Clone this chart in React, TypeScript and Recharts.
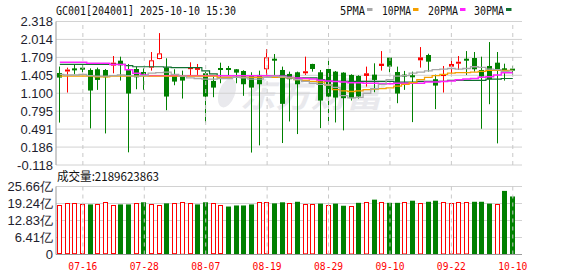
import React from 'react';
import { ComposedChart, Bar, Line, XAxis, YAxis, CartesianGrid, ReferenceLine } from 'recharts';

const dates = [
  '07-11','07-14','07-15','07-16','07-17','07-18','07-21','07-22','07-23','07-24',
  '07-25','07-28','07-29','07-30','07-31','08-01','08-04','08-05','08-06','08-07',
  '08-08','08-11','08-12','08-13','08-14','08-15','08-18','08-19','08-20','08-21',
  '08-22','08-25','08-26','08-27','08-28','08-29','09-01','09-02','09-03','09-04',
  '09-05','09-08','09-09','09-10','09-11','09-12','09-15','09-16','09-17','09-18',
  '09-19','09-22','09-23','09-24','09-25','09-26','09-29','09-30','10-09','10-10',
];

const openP = [
  1.444,1.482,1.508,1.520,1.495,1.507,1.495,1.569,1.653,1.512,
  1.512,1.461,1.535,1.681,1.535,1.405,1.405,1.512,1.510,1.439,
  1.309,1.514,1.514,1.507,1.478,1.405,1.411,1.507,1.672,1.495,
  1.428,1.456,1.452,1.597,1.456,1.512,1.467,1.450,1.411,1.394,
  1.394,1.416,1.563,1.704,1.461,1.402,1.405,1.659,1.749,1.338,
  1.406,1.552,1.615,1.672,1.698,1.495,1.563,1.619,1.509,1.512,
];
const highP = [
  1.553,1.535,1.580,1.591,1.523,1.535,1.512,1.732,1.721,1.597,
  1.552,1.523,1.800,2.121,1.693,1.507,1.484,1.625,1.597,1.467,
  1.382,1.619,1.563,1.510,1.490,1.456,1.484,1.850,1.766,1.552,
  1.467,1.467,1.721,1.600,1.495,1.664,1.478,1.456,1.422,1.405,
  1.552,1.608,1.816,1.707,1.552,1.479,1.467,1.884,1.771,1.416,
  1.563,1.709,1.732,1.816,1.800,1.721,1.969,1.800,1.602,1.563,
];
const lowP = [
  0.602,1.112,1.422,1.456,0.503,1.157,0.418,1.439,1.315,0.097,
  1.168,1.157,1.484,1.678,0.813,1.236,1.010,1.394,1.411,0.604,
  1.033,1.270,1.400,1.270,1.056,0.093,0.215,1.411,1.411,0.255,
  0.621,0.407,1.411,1.467,0.508,0.576,0.604,0.469,0.976,1.010,
  1.213,1.117,1.484,1.456,0.931,1.157,0.610,1.535,1.467,0.830,
  1.112,1.411,1.495,1.411,1.467,0.497,0.914,0.249,1.315,1.411,
];
const closeP = [
  1.366,1.490,1.503,1.515,1.146,1.326,1.371,1.619,1.574,1.095,
  1.371,1.394,1.659,1.777,1.044,1.298,1.315,1.540,1.518,1.044,
  1.196,1.509,1.509,1.450,1.253,1.196,1.253,1.710,1.667,0.920,
  1.338,1.253,1.460,1.512,0.976,1.044,1.027,1.016,1.016,1.044,
  1.439,1.326,1.602,1.552,1.095,1.397,1.371,1.709,1.636,1.230,
  1.412,1.597,1.622,1.667,1.507,1.383,1.338,1.495,1.504,1.490,
];

const ma5 = [
  1.42,1.41,1.41,1.42,1.40,1.39,1.39,1.40,1.41,1.40,
  1.39,1.40,1.44,1.45,1.46,1.42,1.39,1.36,1.35,1.34,
  1.34,1.35,1.35,1.37,1.36,1.34,1.34,1.37,1.39,1.38,
  1.36,1.33,1.30,1.27,1.25,1.24,1.20,1.06,1.02,1.03,
  1.10,1.18,1.25,1.33,1.39,1.40,1.44,1.46,1.48,1.50,
  1.51,1.52,1.51,1.52,1.55,1.54,1.51,1.50,1.47,1.48,
];
const ma10 = [
  1.39,1.39,1.39,1.39,1.39,1.38,1.38,1.39,1.39,1.39,
  1.39,1.39,1.39,1.39,1.39,1.39,1.39,1.39,1.39,1.39,
  1.39,1.37,1.37,1.37,1.37,1.37,1.37,1.37,1.37,1.37,
  1.36,1.33,1.32,1.30,1.29,1.24,1.16,1.14,1.13,1.14,
  1.16,1.17,1.18,1.19,1.22,1.25,1.28,1.33,1.37,1.40,
  1.42,1.44,1.45,1.45,1.46,1.47,1.49,1.49,1.49,1.49,
];
const ma20 = [
  1.625,1.625,1.625,1.625,1.608,1.608,1.608,1.59,1.59,1.50,
  1.44,1.41,1.395,1.395,1.395,1.395,1.395,1.395,1.395,1.395,
  1.395,1.395,1.395,1.395,1.395,1.395,1.395,1.395,1.395,1.39,
  1.37,1.36,1.35,1.34,1.32,1.31,1.30,1.29,1.28,1.28,
  1.27,1.27,1.26,1.26,1.27,1.27,1.27,1.27,1.29,1.29,
  1.30,1.31,1.33,1.34,1.35,1.37,1.38,1.41,1.45,1.45,
];
const ma30 = [
  1.59,1.59,1.59,1.59,1.59,1.59,1.59,1.59,1.59,1.57,
  1.55,1.55,1.55,1.55,1.545,1.535,1.535,1.535,1.535,1.48,
  1.43,1.40,1.40,1.40,1.40,1.40,1.40,1.40,1.40,1.40,
  1.36,1.36,1.36,1.36,1.33,1.30,1.30,1.30,1.30,1.30,
  1.30,1.30,1.30,1.30,1.29,1.29,1.29,1.30,1.30,1.30,
  1.30,1.32,1.32,1.32,1.32,1.32,1.34,1.34,1.35,1.35,
];

const volume = [
  18.5,19.3,19.3,18.9,18.9,18.9,19.7,18.5,18.9,18.9,
  19.3,19.7,18.9,18.5,19.3,19.3,19.9,19.3,18.9,19.7,
  19.3,18.5,18.1,18.5,18.5,18.9,19.9,19.7,19.3,19.7,
  19.4,19.9,19.0,19.0,19.2,18.7,19.2,18.4,18.3,19.5,
  19.8,20.7,19.8,19.5,19.5,19.8,20.3,19.4,19.9,20.3,
  19.8,19.4,19.8,19.8,19.9,19.9,19.2,19.2,24.0,21.9,
];
const volUpFlags = [
  1,1,1,1,0,1,1,1,0,0,
  1,0,1,1,0,1,1,1,0,0,
  1,1,0,0,0,0,1,1,0,0,
  1,0,1,1,0,1,0,0,1,0,
  1,0,1,0,0,1,0,1,0,0,
  1,1,1,1,0,0,0,1,0,0,
];

const priceTicks = [-0.118, 0.186, 0.491, 0.795, 1.1, 1.405, 1.709, 2.014, 2.318];
const volTicks = [0, 6.41, 12.83, 19.24, 25.66];
const dateTicks = ['07-16', '07-28', '08-07', '08-19', '08-29', '09-10', '09-22', '10-10'];
const titleText = 'GC001[204001] 2025-10-10 15:30';
const volTitle = '成交量:2189623863';
const legendItems = [
  { label: '5PMA', color: '#a8a8a8' },
  { label: '10PMA', color: '#f5a000' },
  { label: '20PMA', color: '#ff22ff' },
  { label: '30PMA', color: '#107030' },
];

const RED = '#ff0000';
const GREEN = '#008000';
const FRAME = '#9a9a9a';
const VGRID = '#c8c8c8';

const data = dates.map((d, i) => ({
  idx: i,
  date: d,
  open: openP[i],
  high: highP[i],
  low: lowP[i],
  close: closeP[i],
  range: [lowP[i], highP[i]],
  ma5: ma5[i],
  ma10: ma10[i],
  ma20: ma20[i],
  ma30: ma30[i],
  vol: volume[i],
  volUp: volUpFlags[i] === 1,
}));

const tickIdx = dateTicks.map((d) => dates.indexOf(d));
const xDomain: [number, number] = [-0.5, 60.2];

function Candle(props: any) {
  const { x, y, width, height, payload } = props;
  if (x == null || y == null || !payload) return <g />;
  const top = Math.min(y, y + height);
  const h = Math.abs(height);
  const { open, close, high, low } = payload;
  const k = h / (high - low);
  const py = (p: number) => top + (high - p) * k;
  const up = close > open;
  const color = up ? RED : GREEN;
  const cx = Math.floor(x + width / 2) + 0.5;
  let b1 = py(Math.max(open, close));
  let b2 = py(Math.min(open, close));
  if (b2 - b1 < 2) {
    const m = (b1 + b2) / 2;
    b1 = m - 1;
    b2 = m + 1;
  }
  const bx = cx - 2.5;
  if (up) {
    const hollow = b2 - b1 > 3;
    return (
      <g>
        <line x1={cx} x2={cx} y1={top} y2={b1} stroke={color} strokeWidth={1} />
        <line x1={cx} x2={cx} y1={b2} y2={top + h} stroke={color} strokeWidth={1} />
        {hollow ? (
          <rect x={bx + 0.5} y={b1 + 0.5} width={4} height={b2 - b1 - 1} fill="#fff" stroke={color} strokeWidth={1} />
        ) : (
          <rect x={bx} y={b1} width={5} height={b2 - b1} fill={color} />
        )}
      </g>
    );
  }
  return (
    <g>
      <line x1={cx} x2={cx} y1={top} y2={top + h} stroke={color} strokeWidth={1} />
      <rect x={bx} y={b1} width={5} height={b2 - b1} fill={color} />
    </g>
  );
}

function VolBar(props: any) {
  const { x, y, width, height, payload } = props;
  if (x == null || y == null || !payload) return <g />;
  const top = Math.min(y, y + height);
  const h = Math.abs(height);
  const bx = Math.round(x);
  if (payload.volUp) {
    return <rect x={bx + 0.5} y={Math.round(top) + 0.5} width={width - 1} height={h - 1} fill="#fff" stroke={RED} strokeWidth={1} />;
  }
  return <rect x={bx} y={top} width={width} height={h} fill={GREEN} />;
}

function DateTick(props: any) {
  const { x, y, payload } = props;
  const label = dates[payload.value];
  return (
    <text x={x} y={y} dy={15.5} textAnchor="middle" fill={RED} fontSize={11}
      fontFamily="'DejaVu Sans Mono', monospace" textLength={29} lengthAdjust="spacingAndGlyphs">
      {label}
    </text>
  );
}

const yTickStyle = { fontSize: 13, fill: '#1e1e2e', fontFamily: "'Liberation Sans', Arial, sans-serif" };

export default function App() {
  return (
    <div style={{ position: 'absolute', left: 0, top: 0, width: 578, height: 276, background: '#fff', overflow: 'hidden' }}>
      <svg width={578} height={276} style={{ position: 'absolute', left: 0, top: 0 }}>
        <ellipse cx={227} cy={93} rx={8} ry={15} transform="rotate(20 227 93)" fill="#e9e9ed" />
        <text x={240} y={107} fontSize={34} fontWeight="bold" fontFamily="'Noto Sans CJK SC', sans-serif"
          fill="#e9e9ed" textLength={142} lengthAdjust="spacingAndGlyphs" fontStyle="italic">
          东方财富
        </text>
      </svg>

      <div style={{ position: 'absolute', left: 0, top: 0 }}>
        <ComposedChart width={578} height={180} data={data} margin={{ top: 21.5, right: 56, bottom: 15, left: 0 }}>
          <CartesianGrid vertical={false} stroke="#d2d2d2" />
          <XAxis dataKey="idx" type="number" domain={xDomain} ticks={tickIdx} allowDataOverflow interval={0}
            tick={false} tickLine={false} height={0} axisLine={{ stroke: FRAME }} />
          <XAxis xAxisId="top" orientation="top" dataKey="idx" type="number" domain={xDomain}
            tick={false} tickLine={false} height={0} axisLine={{ stroke: FRAME }} />
          <YAxis domain={[-0.118, 2.318]} ticks={priceTicks} allowDataOverflow width={56} interval={0}
            tickSize={0} tickMargin={3} tickLine={false} axisLine={{ stroke: FRAME }}
            tick={yTickStyle} tickFormatter={(v: number) => v.toFixed(3)} />
          <YAxis yAxisId="right" orientation="right" width={0} tick={false} tickLine={false}
            axisLine={{ stroke: FRAME }} />
          {tickIdx.map((t) => (
            <ReferenceLine key={t} x={t} stroke={VGRID} strokeDasharray="4 4" ifOverflow="extendDomain" />
          ))}
          <Line type="step" dataKey="ma30" stroke="#107030" strokeWidth={1.2} dot={false} activeDot={false} isAnimationActive={false} />
          <Line type="step" dataKey="ma20" stroke="#ff22ff" strokeWidth={1.5} dot={false} activeDot={false} isAnimationActive={false} />
          <Line type="step" dataKey="ma10" stroke="#f5a000" strokeWidth={1.3} dot={false} activeDot={false} isAnimationActive={false} />
          <Line type="step" dataKey="ma5" stroke="#a8a8a8" strokeWidth={1.3} dot={false} activeDot={false} isAnimationActive={false} />
          <Bar dataKey="range" barSize={5} shape={(p: any) => <Candle {...p} />} isAnimationActive={false} />
        </ComposedChart>
      </div>

      <div style={{ position: 'absolute', left: 0, top: 170 }}>
        <ComposedChart width={578} height={106} data={data} margin={{ top: 16.5, right: 56, bottom: 0, left: 0 }}>
          <CartesianGrid vertical={false} stroke="#d2d2d2" />
          <XAxis dataKey="idx" type="number" domain={xDomain} ticks={tickIdx} allowDataOverflow interval={0}
            tick={<DateTick />} tickLine={false} tickSize={0} tickMargin={0} height={21.5} axisLine={{ stroke: FRAME }} />
          <XAxis xAxisId="top" orientation="top" dataKey="idx" type="number" domain={xDomain}
            tick={false} tickLine={false} height={0} axisLine={{ stroke: FRAME }} />
          <YAxis domain={[0, 25.66]} ticks={volTicks} allowDataOverflow width={56} interval={0}
            tickSize={0} tickMargin={3} tickLine={false} axisLine={{ stroke: FRAME }}
            tick={yTickStyle} tickFormatter={(v: number) => (v === 0 ? '0' : v.toFixed(2) + '亿')} />
          <YAxis yAxisId="right" orientation="right" width={0} tick={false} tickLine={false}
            axisLine={{ stroke: FRAME }} />
          {tickIdx.map((t) => (
            <ReferenceLine key={t} x={t} stroke={VGRID} strokeDasharray="4 4" />
          ))}
          <Bar dataKey="vol" barSize={5} shape={(p: any) => <VolBar {...p} />} isAnimationActive={false} />
        </ComposedChart>
      </div>

      <svg width={578} height={276} style={{ position: 'absolute', left: 0, top: 0, pointerEvents: 'none' }}>
        <text x={56} y={14.5} fontSize={11.5} fontFamily="'DejaVu Sans Mono', monospace" fill="#111"
          textLength={180} lengthAdjust="spacingAndGlyphs">{titleText}</text>
        {legendItems.map((it, i) => {
          const xs = [340, 382, 428, 474][i];
          const ws = [25, 29, 30, 30][i];
          return (
            <g key={it.label}>
              <text x={xs} y={14.5} fontSize={11.5} fontFamily="'DejaVu Sans Mono', monospace" fill="#111"
                textLength={ws} lengthAdjust="spacingAndGlyphs">{it.label}</text>
              <rect x={xs + ws + 2} y={8} width={5.5} height={3} fill={it.color} />
            </g>
          );
        })}
        <text x={57} y={180.5} fontSize={12} fontFamily="'Noto Sans CJK SC', sans-serif" fill="#111"
          textLength={102} lengthAdjust="spacingAndGlyphs">{volTitle}</text>
      </svg>
    </div>
  );
}
